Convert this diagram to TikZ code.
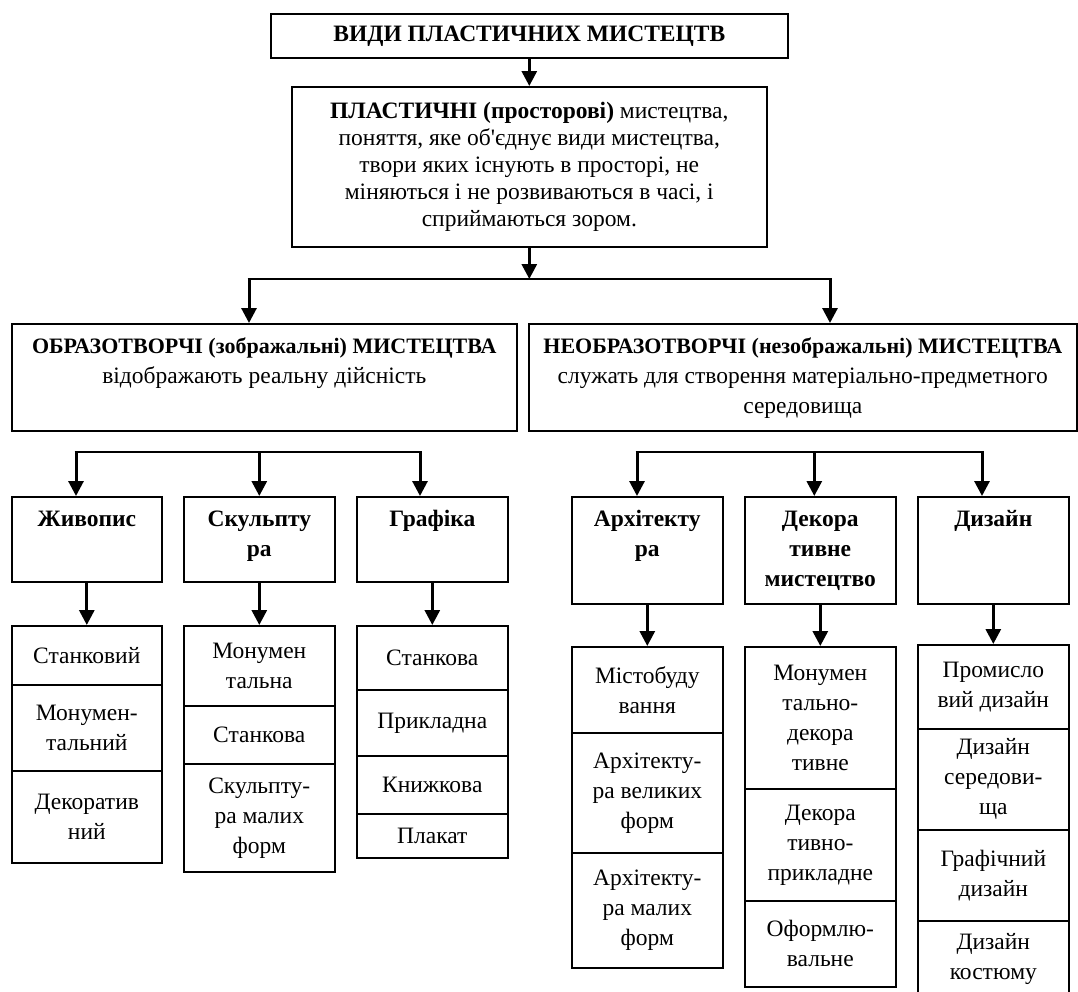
\documentclass[tikz,border=0pt]{standalone}
\usepackage{fontspec}
\setmainfont{Liberation Serif}
\usetikzlibrary{arrows.meta}

\tikzset{
  box/.style={draw, line width=1.6pt, inner sep=0pt, anchor=north west},
  arr/.style={line width=3pt, -{Triangle[width=15pt,length=15pt]}},
  bar/.style={line width=2pt},
}
% text in a box of fixed size: top aligned / centred
\newcommand{\topbox}[3]{\parbox[c][#2pt][t]{#1pt}{\centering\vspace{9pt}\strut#3}}
\newcommand{\midbox}[3]{\parbox[c][#2pt][c]{#1pt}{\centering#3}}
\newcommand{\apos}{\XeTeXglyph\the\XeTeXcharglyph"27\relax}
\newcommand{\headline}[1]{{\fontsize{22}{30}\selectfont\bfseries#1}}

\begin{document}
\begin{tikzpicture}[x=1pt, y=-1pt, font=\fontsize{23.5}{30}\selectfont]
\useasboundingbox (0,0) rectangle (1078,991);

% top levels
\node[box] (vydy) at (270,13) {\midbox{517}{44}{\textbf{ВИДИ ПЛАСТИЧНИХ МИСТЕЦТВ}}};
\node[box] (plast) at (291,86) {\midbox{475}{160}{\fontsize{23.5}{27}\selectfont
  \textbf{ПЛАСТИЧНІ (просторові)} мистецтва,\\
  поняття, яке об\apos єднує види мистецтва,\\
  твори яких існують в просторі, не\\
  міняються і не розвиваються в часі, і\\
  сприймаються зором.}};
\node[box] (obraz) at (11,323) {\topbox{505}{107}{\headline{ОБРАЗОТВОРЧІ (зображальні) МИСТЕЦТВА}\\
  відображають реальну дійсність}};
\node[box] (neobraz) at (528,323) {\topbox{548}{107}{\headline{НЕОБРАЗОТВОРЧІ (незображальні) МИСТЕЦТВА}\\
  служать для створення матеріально-предметного\\ середовища}};

% kinds
\node[box] (zhyv) at (11,496) {\topbox{150}{85}{\textbf{Живопис}}};
\node[box] (skulp) at (183,496) {\topbox{151}{85}{\textbf{Скульпту\\ра}}};
\node[box] (graf) at (356,496) {\topbox{151}{85}{\textbf{Графіка}}};
\node[box] (arch) at (571,496) {\topbox{151}{107}{\textbf{Архітекту\\ра}}};
\node[box] (dekor) at (744,496) {\topbox{151}{107}{\textbf{Декора\\тивне\\мистецтво}}};
\node[box] (dyz) at (917,496) {\topbox{151}{107}{\textbf{Дизайн}}};

% Живопис
\node[box] (zh1) at (11,625) {\midbox{150}{59}{Станковий}};
\node[box] (zh2) at (11,684) {\midbox{150}{86}{Монумен-\\тальний}};
\node[box] (zh3) at (11,770) {\midbox{150}{92}{Декоратив\\ний}};
% Скульптура
\node[box] (sk1) at (183,625) {\midbox{151}{80}{Монумен\\тальна}};
\node[box] (sk2) at (183,705) {\midbox{151}{58}{Станкова}};
\node[box] (sk3) at (183,763) {\midbox{151}{108}{Скульпту-\\ра малих\\форм}};
% Графіка
\node[box] (gr1) at (356,625) {\midbox{151}{64}{Станкова}};
\node[box] (gr2) at (356,689) {\midbox{151}{66}{Прикладна}};
\node[box] (gr3) at (356,755) {\midbox{151}{58}{Книжкова}};
\node[box] (gr4) at (356,813) {\midbox{151}{44}{Плакат}};
% Архітектура
\node[box] (ar1) at (571,646) {\midbox{151}{86}{Містобуду\\вання}};
\node[box] (ar2) at (571,732) {\midbox{151}{120}{Архітекту-\\ра великих\\форм}};
\node[box] (ar3) at (571,852) {\midbox{151}{115}{Архітекту-\\ра малих\\форм}};
% Декоративне мистецтво
\node[box] (de1) at (744,646) {\midbox{151}{142}{Монумен\\тально-\\декора\\тивне}};
\node[box] (de2) at (744,788) {\midbox{151}{112}{Декора\\тивно-\\прикладне}};
\node[box] (de3) at (744,900) {\midbox{151}{86}{Оформлю-\\вальне}};
% Дизайн
\node[box] (dz1) at (917,644) {\midbox{151}{84}{Промисло\\вий дизайн}};
\node[box] (dz2) at (917,728) {\midbox{151}{101}{Дизайн\\середови-\\ща}};
\node[box] (dz3) at (917,829) {\midbox{151}{91}{Графічний\\дизайн}};
\node[box] (dz4) at (917,920) {\midbox{151}{76}{Дизайн\\костюму}};

% connectors
\coordinate (j0) at (527,279);
\coordinate (jl) at (249,279);
\coordinate (jr) at (830,279);
\draw[arr] (vydy.south) -- (plast.north);
\draw[arr] (plast.south) -- (plast.south |- j0);
\draw[bar] ([xshift=-1.5pt]jl) -- ([xshift=1.5pt]jr);
\draw[arr] (jl) -- (jl |- obraz.north);
\draw[arr] (jr) -- (jr |- neobraz.north);

\coordinate (la) at (76,452);
\coordinate (lb) at (420,452);
\coordinate (ra) at (637,452);
\coordinate (rb) at (982,452);
\draw[bar] ([xshift=-1.5pt]la) -- ([xshift=1.5pt]lb);
\draw[bar] ([xshift=-1.5pt]ra) -- ([xshift=1.5pt]rb);
\draw[arr] (la) -- (la |- zhyv.north);
\draw[arr] (skulp.north |- la) -- (skulp.north);
\draw[arr] (lb) -- (lb |- graf.north);
\draw[arr] (ra) -- (ra |- arch.north);
\draw[arr] ([xshift=-6pt]dekor.north |- ra) -- ([xshift=-6pt]dekor.north);
\draw[arr] (rb) -- (rb |- dyz.north);

\foreach \a/\b in {zhyv/zh1, skulp/sk1, graf/gr1, arch/ar1, dekor/de1, dyz/dz1}
  \draw[arr] (\a.south) -- (\b.north);
\end{tikzpicture}
\end{document}
